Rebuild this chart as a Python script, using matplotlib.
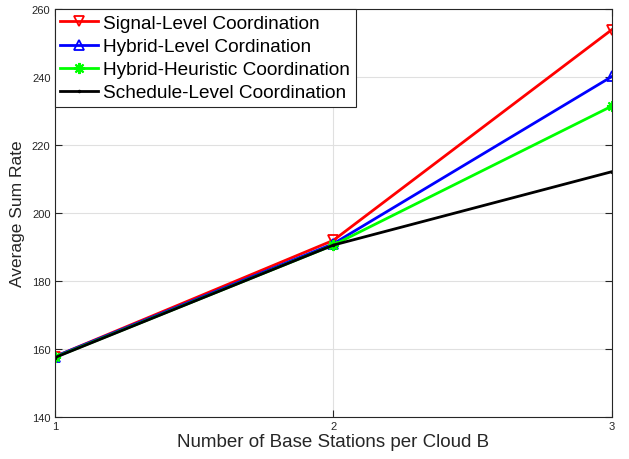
import matplotlib
matplotlib.use('Agg')
import matplotlib.pyplot as plt

plt.rcParams['font.family'] = ['Liberation Sans', 'DejaVu Sans']

bs = [1, 2, 3]
signal = [157.8, 192.0, 254.0]
hybrid = [157.8, 191.0, 240.2]
heuristic = [157.6, 190.6, 231.5]
schedule = [157.5, 190.6, 212.2]

fig = plt.figure(figsize=(6.29, 4.60), dpi=100)
ax = fig.add_axes([0.087, 0.091, 0.886, 0.887])

ax.plot(bs, signal, 'r-', marker='v', lw=2, ms=7, mfc='none', mew=1.3,
        label='Signal-Level Coordination')
ax.plot(bs, hybrid, 'b-', marker='^', lw=2, ms=7, mfc='none', mew=1.3,
        label='Hybrid-Level Cordination')
ax.plot(bs, heuristic, '-', color='#00ff00', marker=(8, 2, 0), lw=2, ms=8, mew=1.5,
        label='Hybrid-Heuristic Coordination')
ax.plot(bs, schedule, 'k-', lw=2, marker='.', ms=3,
        label='Schedule-Level Coordination')

ax.set_xlim(1, 3)
ax.set_ylim(140, 260)
ax.set_xticks([1, 2, 3])
ax.set_yticks(range(140, 261, 20))
ax.tick_params(direction='in', top=True, right=True, labelsize=8, colors='#262626',
               length=5, pad=3)
ax.grid(color='#e0e0e0', lw=0.8)
for s in ax.spines.values():
    s.set_color('#262626')
    s.set_linewidth(0.8)

ax.set_xlabel('Number of Base Stations per Cloud B', fontsize=13.5, color='#262626', labelpad=1)
ax.set_ylabel('Average Sum Rate', fontsize=12.5, color='#262626', labelpad=5)

leg = ax.legend(loc='upper left', fontsize=13.7, fancybox=False, framealpha=1,
                edgecolor='#262626', borderaxespad=0, handlelength=2.0,
                handletextpad=0.25, labelspacing=0.3, borderpad=0.3)
leg.get_frame().set_linewidth(0.8)

plt.savefig('out.png', dpi=100)
